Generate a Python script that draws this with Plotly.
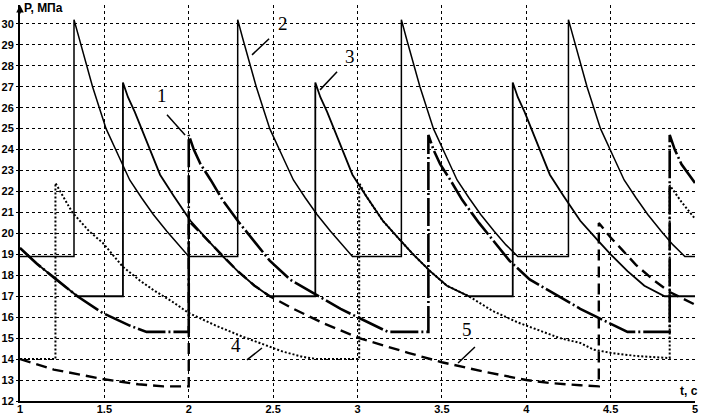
import plotly.graph_objects as go

# curve 1 - thick dash-dot, peaks 24.7, floor 15.3
t1 = [1.00, 1.10, 1.20, 1.34, 1.49, 1.65, 1.75, 2.00,
      2.00, 2.03, 2.07, 2.13, 2.20, 2.30, 2.40, 2.48, 2.60, 2.76, 2.90, 3.00, 3.13, 3.18, 3.42,
      3.42, 3.45, 3.49, 3.55, 3.62, 3.72, 3.82, 3.90, 4.02, 4.18, 4.32, 4.42, 4.55, 4.60, 4.85,
      4.85, 4.88, 4.92, 5.00]
p1 = [19.3, 18.55, 17.9, 17.0, 16.2, 15.6, 15.3, 15.3,
      24.7, 24.0, 23.3, 22.55, 21.6, 20.5, 19.5, 18.7, 17.8, 17.06, 16.4, 16.0, 15.5, 15.3, 15.3,
      24.7, 24.0, 23.3, 22.55, 21.6, 20.5, 19.5, 18.7, 17.8, 17.06, 16.4, 16.0, 15.5, 15.3, 15.3,
      24.7, 24.0, 23.3, 22.4]

# curve 2 - thin solid, peaks 30.2, floor 18.9
t2 = [1.00, 1.32,
      1.32, 1.35, 1.38, 1.43, 1.47, 1.51, 1.59, 1.65, 1.72, 1.79, 1.87, 1.94, 2.00, 2.29,
      2.29, 2.32, 2.35, 2.40, 2.44, 2.48, 2.56, 2.62, 2.69, 2.76, 2.84, 2.91, 2.97, 3.26,
      3.26, 3.29, 3.32, 3.37, 3.41, 3.45, 3.53, 3.59, 3.66, 3.73, 3.81, 3.88, 3.95, 4.25,
      4.25, 4.28, 4.31, 4.36, 4.40, 4.44, 4.52, 4.58, 4.65, 4.72, 4.80, 4.87, 4.94, 5.00]
p2 = [18.9, 18.9,
      30.2, 29.3, 28.4, 27.0, 26.0, 25.0, 23.6, 22.55, 21.7, 20.9, 20.1, 19.45, 18.9, 18.9,
      30.2, 29.3, 28.4, 27.0, 26.0, 25.0, 23.6, 22.55, 21.7, 20.9, 20.1, 19.45, 18.9, 18.9,
      30.2, 29.3, 28.4, 27.0, 26.0, 25.0, 23.6, 22.55, 21.7, 20.9, 20.1, 19.45, 18.9, 18.9,
      30.2, 29.3, 28.4, 27.0, 26.0, 25.0, 23.6, 22.55, 21.7, 20.9, 20.1, 19.45, 18.9, 18.9]

# curve 3 - solid, peaks 27.2, floor 17.0
t3 = [1.00, 1.10, 1.20, 1.34, 1.61,
      1.61, 1.64, 1.68, 1.75, 1.83, 1.91, 2.01, 2.11, 2.19, 2.29, 2.39, 2.48, 2.75,
      2.75, 2.78, 2.82, 2.89, 2.97, 3.05, 3.15, 3.25, 3.33, 3.43, 3.53, 3.66, 3.92,
      3.92, 3.95, 3.99, 4.06, 4.14, 4.22, 4.32, 4.42, 4.50, 4.60, 4.70, 4.82, 5.00]
p3 = [19.3, 18.55, 17.9, 17.0, 17.0,
      27.2, 26.5, 25.8, 24.4, 22.8, 21.8, 20.6, 19.7, 19.0, 18.2, 17.5, 17.0, 17.0,
      27.2, 26.5, 25.8, 24.4, 22.8, 21.8, 20.6, 19.7, 19.0, 18.2, 17.5, 17.0, 17.0,
      27.2, 26.5, 25.8, 24.4, 22.8, 21.8, 20.6, 19.7, 19.0, 18.2, 17.5, 17.0, 17.0]

# curve 4 - dotted, peaks 22.4, floor 14.0
t4 = [1.00, 1.21,
      1.21, 1.31, 1.41, 1.49, 1.61, 1.71, 1.79, 1.91, 2.00, 2.16, 2.31, 2.42, 2.56, 2.68, 2.76, 3.01,
      3.01, 3.05, 3.15, 3.25, 3.33, 3.43, 3.53, 3.66, 3.80, 3.95, 4.10, 4.20, 4.32, 4.40, 4.50, 4.65, 4.85,
      4.85, 4.92, 5.00]
p4 = [14.0, 14.0,
      22.4, 21.0, 20.1, 19.55, 18.4, 17.75, 17.3, 16.7, 16.2, 15.6, 15.1, 14.77, 14.35, 14.1, 14.0, 14.0,
      22.4, 21.8, 20.6, 19.7, 19.0, 18.2, 17.5, 17.0, 16.3, 15.75, 15.3, 15.0, 14.77, 14.45, 14.3, 14.15, 14.05,
      22.3, 21.5, 20.7]

# curve 5 - dashed, peaks 20.6, floor 12.7
t5 = [1.00, 1.20, 1.49, 1.70, 1.85, 2.00,
      2.00, 2.11, 2.19, 2.29, 2.39, 2.48, 2.62, 2.80, 3.01, 3.13, 3.30, 3.50, 3.75, 4.00, 4.15, 4.32, 4.43,
      4.43, 4.50, 4.57, 4.65, 4.75, 4.85, 5.00]
p5 = [14.0, 13.5, 13.05, 12.8, 12.7, 12.7,
      20.6, 19.7, 19.0, 18.2, 17.5, 17.0, 16.4, 15.7, 15.0, 14.7, 14.3, 13.85, 13.4, 13.0, 12.85, 12.75, 12.7,
      20.5, 19.8, 19.2, 18.5, 17.8, 17.2, 16.6]

xticks = [1, 1.5, 2, 2.5, 3, 3.5, 4, 4.5, 5]
xticklabels = ['1', '1.5', '2', '2.5', '3', '3.5', '4', '4.5', '5']
yticks = list(range(12, 31))

curves = [
    (t1, p1, dict(color='black', width=2.6, dash='28px,3px,2px,3px')),
    (t2, p2, dict(color='black', width=1.5)),
    (t3, p3, dict(color='black', width=1.8)),
    (t4, p4, dict(color='black', width=2, dash='2px,2px')),
    (t5, p5, dict(color='black', width=2.4, dash='11px,6px')),
]

fig = go.Figure()
for t, p, ln in curves:
    fig.add_trace(go.Scatter(x=t, y=p, mode='lines', line=ln, showlegend=False,
                             hoverinfo='skip'))

# numbered labels with leader lines
labels = [
    ('1', 1.84, 26.6, 1.871, 25.66, 1.978, 24.70),
    ('2', 2.56, 30.0, 2.375, 28.52, 2.476, 29.29),
    ('3', 2.956, 28.43, 2.778, 26.85, 2.879, 27.71),
    ('4', 2.28, 14.67, 2.345, 13.96, 2.434, 14.53),
    ('5', 3.65, 15.4, 3.596, 13.81, 3.696, 14.58),
]
annotations = []
shapes = []
for txt, tx, ty, x0, y0, x1, y1 in labels:
    annotations.append(dict(x=tx, y=ty, xref='x', yref='y', text=txt, showarrow=False,
                            font=dict(family='Liberation Serif', size=19, color='black')))
    shapes.append(dict(type='line', x0=x0, y0=y0, x1=x1, y1=y1, xref='x', yref='y',
                       line=dict(color='black', width=1.5)))

annotations.append(dict(x=1.01, y=30.78, xref='x', yref='y', text='P, МПа', showarrow=False,
                        xanchor='left', font=dict(family='Liberation Sans', size=12,
                                                  color='black', weight='bold')))
annotations.append(dict(x=4.965, y=12.5, xref='x', yref='y', text='t, c', showarrow=False,
                        font=dict(family='Liberation Sans', size=12, color='black',
                                  weight='bold')))
annotations.append(dict(x=1, y=30.9, xref='x', yref='y', ax=0, ay=10, text='',
                        showarrow=True, arrowhead=2, arrowsize=1, arrowwidth=1.5,
                        arrowcolor='black'))

fig.update_layout(
    width=704, height=414,
    margin=dict(l=20, r=9, t=5, b=13),
    paper_bgcolor='white', plot_bgcolor='white',
    annotations=annotations, shapes=shapes,
    font=dict(family='Liberation Sans', size=11, color='black'),
)
fig.update_xaxes(range=[1, 5], tickvals=xticks, ticktext=xticklabels,
                 showgrid=True, gridcolor='black', gridwidth=1, griddash='dot',
                 showline=True, linecolor='black', linewidth=1.5, zeroline=False,
                 ticks='', automargin=False, ticklabelstandoff=-3,
                 tickfont=dict(family='Liberation Sans', size=11, color='black', weight='bold'))
fig.update_yaxes(range=[12, 30.9], tickvals=yticks,
                 showgrid=True, gridcolor='black', gridwidth=1, griddash='dot',
                 showline=True, linecolor='black', linewidth=2, zeroline=False,
                 ticks='outside', ticklen=2, tickcolor='black', automargin=False,
                 tickfont=dict(family='Liberation Sans', size=11, color='black', weight='bold'))

fig.write_html("out.html", config={'displayModeBar': False},
               post_script="document.body.style.margin='0';")
